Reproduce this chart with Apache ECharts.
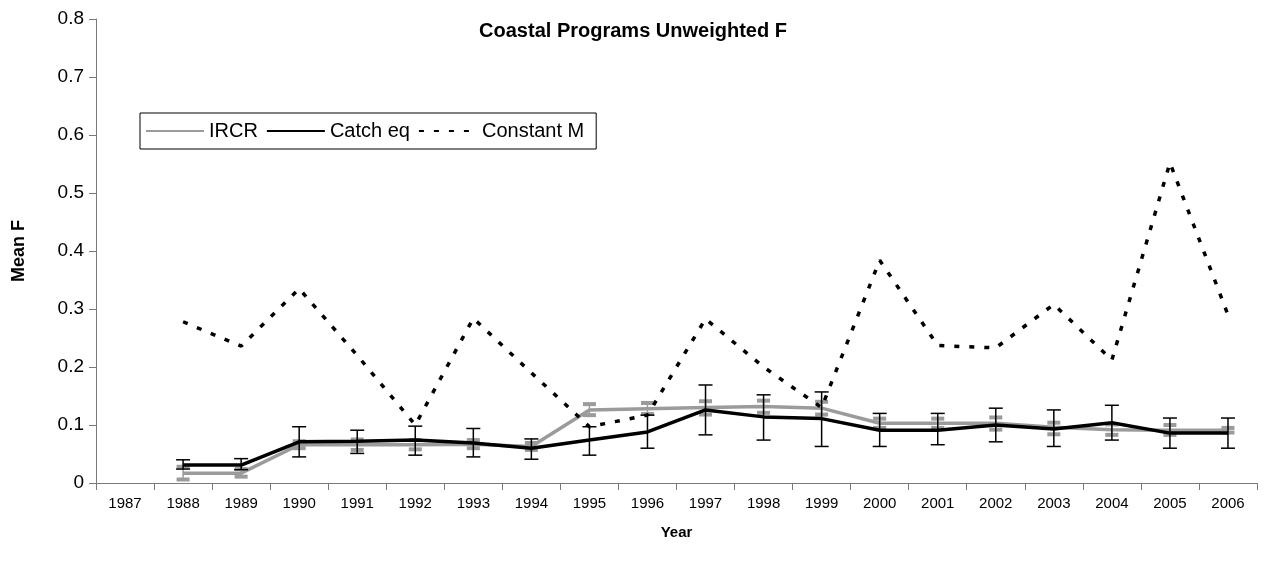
<!DOCTYPE html>
<html>
<head>
<meta charset="utf-8">
<script src="https://cdn.jsdelivr.net/npm/echarts@6/dist/echarts.min.js"></script>
<style>
  html, body { margin: 0; padding: 0; background: #fff; }
  #chart { width: 1267px; height: 565px; }
</style>
</head>
<body>
<div id="chart"></div>
<script>
// Years on the category axis
const years = ['1987','1988','1989','1990','1991','1992','1993','1994','1995','1996',
               '1997','1998','1999','2000','2001','2002','2003','2004','2005','2006'];

// IRCR mean F with its error range
const ircr     = [null, 0.017, 0.017, 0.066, 0.066, 0.066, 0.067, 0.063, 0.126, 0.128,
                  0.130, 0.132, 0.129, 0.103, 0.103, 0.103, 0.096, 0.092, 0.091, 0.091];
const ircrLow  = [null, 0.006, 0.011, 0.060, 0.057, 0.058, 0.060, 0.057, 0.117, 0.119,
                  0.118, 0.121, 0.118, 0.095, 0.095, 0.092, 0.084, 0.083, 0.083, 0.087];
const ircrHigh = [null, 0.028, 0.024, 0.072, 0.075, 0.074, 0.074, 0.069, 0.136, 0.138,
                  0.141, 0.142, 0.140, 0.111, 0.111, 0.113, 0.104, 0.101, 0.100, 0.095];

// Catch equation mean F with its error range
const catchEq     = [null, 0.031, 0.031, 0.071, 0.072, 0.074, 0.069, 0.060, 0.074, 0.088,
                     0.126, 0.114, 0.111, 0.091, 0.091, 0.100, 0.093, 0.104, 0.086, 0.086];
const catchEqLow  = [null, 0.024, 0.023, 0.045, 0.051, 0.048, 0.045, 0.041, 0.048, 0.060,
                     0.083, 0.074, 0.063, 0.063, 0.066, 0.071, 0.063, 0.074, 0.060, 0.060];
const catchEqHigh = [null, 0.040, 0.042, 0.097, 0.091, 0.098, 0.094, 0.076, 0.097, 0.117,
                     0.169, 0.152, 0.157, 0.120, 0.120, 0.129, 0.126, 0.134, 0.112, 0.112];

// Constant natural mortality mean F
const constantM = [null, 0.278, 0.236, 0.335, 0.220, 0.100, 0.284, 0.190, 0.097, 0.117,
                   0.283, 0.200, 0.130, 0.384, 0.237, 0.233, 0.308, 0.212, 0.552, 0.290];

const FONT = "'Liberation Sans', Arial, sans-serif";
const GRAY = '#9b9b9b';
const AXIS = '#7a7a7a';

function rangeData(low, high) {
  const out = [];
  low.forEach((v, i) => { if (v != null) out.push([i, v, high[i]]); });
  return out;
}

// Vertical error bar with horizontal caps
function errorBar(color, stemWidth, capWidth, capHalf) {
  return function (params, api) {
    const x = api.value(0);
    const lo = api.coord([x, api.value(1)]);
    const hi = api.coord([x, api.value(2)]);
    const cap = (p) => ({
      type: 'line',
      shape: { x1: p[0] - capHalf, y1: p[1], x2: p[0] + capHalf, y2: p[1] },
      style: { stroke: color, lineWidth: capWidth }
    });
    return {
      type: 'group',
      children: [
        { type: 'line', shape: { x1: lo[0], y1: lo[1], x2: hi[0], y2: hi[1] },
          style: { stroke: color, lineWidth: stemWidth } },
        cap(lo), cap(hi)
      ]
    };
  };
}

const chart = echarts.init(document.getElementById('chart'), null, { renderer: 'canvas' });

chart.setOption({
  backgroundColor: '#fff',
  animation: false,
  textStyle: { fontFamily: FONT, color: '#000' },
  title: {
    text: 'Coastal Programs Unweighted F',
    left: 628, top: 16, textAlign: 'center',
    textStyle: { fontFamily: FONT, fontSize: 20, fontWeight: 'bold', color: '#000' }
  },
  legend: {
    left: 140, top: 113,
    data: ['IRCR', 'Catch eq', 'Constant M'],
    itemWidth: 58, itemHeight: 14, itemGap: 8,
    padding: [8, 12, 8, 5],
    borderColor: '#000', borderWidth: 1,
    itemStyle: { opacity: 0 },
    textStyle: { fontFamily: FONT, fontSize: 20, color: '#000' }
  },
  grid: { left: 96, right: 10, top: 19, bottom: 82, containLabel: false },
  xAxis: {
    type: 'category',
    data: years,
    boundaryGap: true,
    name: 'Year',
    nameLocation: 'middle',
    nameGap: 42,
    nameTextStyle: { fontFamily: FONT, fontSize: 15, fontWeight: 'bold', color: '#000' },
    axisLine: { lineStyle: { color: AXIS, width: 1 } },
    axisTick: { show: true, interval: 0, length: 7, lineStyle: { color: AXIS } },
    axisLabel: { interval: 0, fontFamily: FONT, fontSize: 15, color: '#000', margin: 13 },
    splitLine: { show: false }
  },
  yAxis: {
    type: 'value',
    min: 0, max: 0.8, interval: 0.1,
    name: 'Mean F',
    nameLocation: 'middle',
    nameGap: 68,
    nameRotate: 90,
    nameTextStyle: { fontFamily: FONT, fontSize: 18, fontWeight: 'bold', color: '#000' },
    axisLine: { show: true, lineStyle: { color: AXIS, width: 1 } },
    axisTick: { show: true, length: 7, lineStyle: { color: AXIS } },
    axisLabel: {
      fontFamily: FONT, fontSize: 19, color: '#000', margin: 12,
      formatter: (v) => (v === 0 ? '0' : v.toFixed(1))
    },
    splitLine: { show: false }
  },
  series: [
    {
      name: 'IRCR error', type: 'custom', z: 2,
      renderItem: errorBar(GRAY, 1.5, 4, 6.5),
      data: rangeData(ircrLow, ircrHigh),
      silent: true
    },
    {
      name: 'IRCR', type: 'line', z: 3,
      data: ircr, symbol: 'none', connectNulls: false,
      lineStyle: { color: GRAY, width: 3.5 },
      itemStyle: { color: GRAY }
    },
    {
      name: 'Catch eq', type: 'line', z: 4,
      data: catchEq, symbol: 'none',
      lineStyle: { color: '#000', width: 3.5 },
      itemStyle: { color: '#000' }
    },
    {
      name: 'Catch eq error', type: 'custom', z: 5,
      renderItem: errorBar('#000', 1.5, 1.5, 7),
      data: rangeData(catchEqLow, catchEqHigh),
      silent: true
    },
    {
      name: 'Constant M', type: 'line', z: 6,
      data: constantM, symbol: 'none',
      lineStyle: { color: '#000', width: 3.5, type: [5, 10] },
      itemStyle: { color: '#000' }
    }
  ]
});
</script>
</body>
</html>
